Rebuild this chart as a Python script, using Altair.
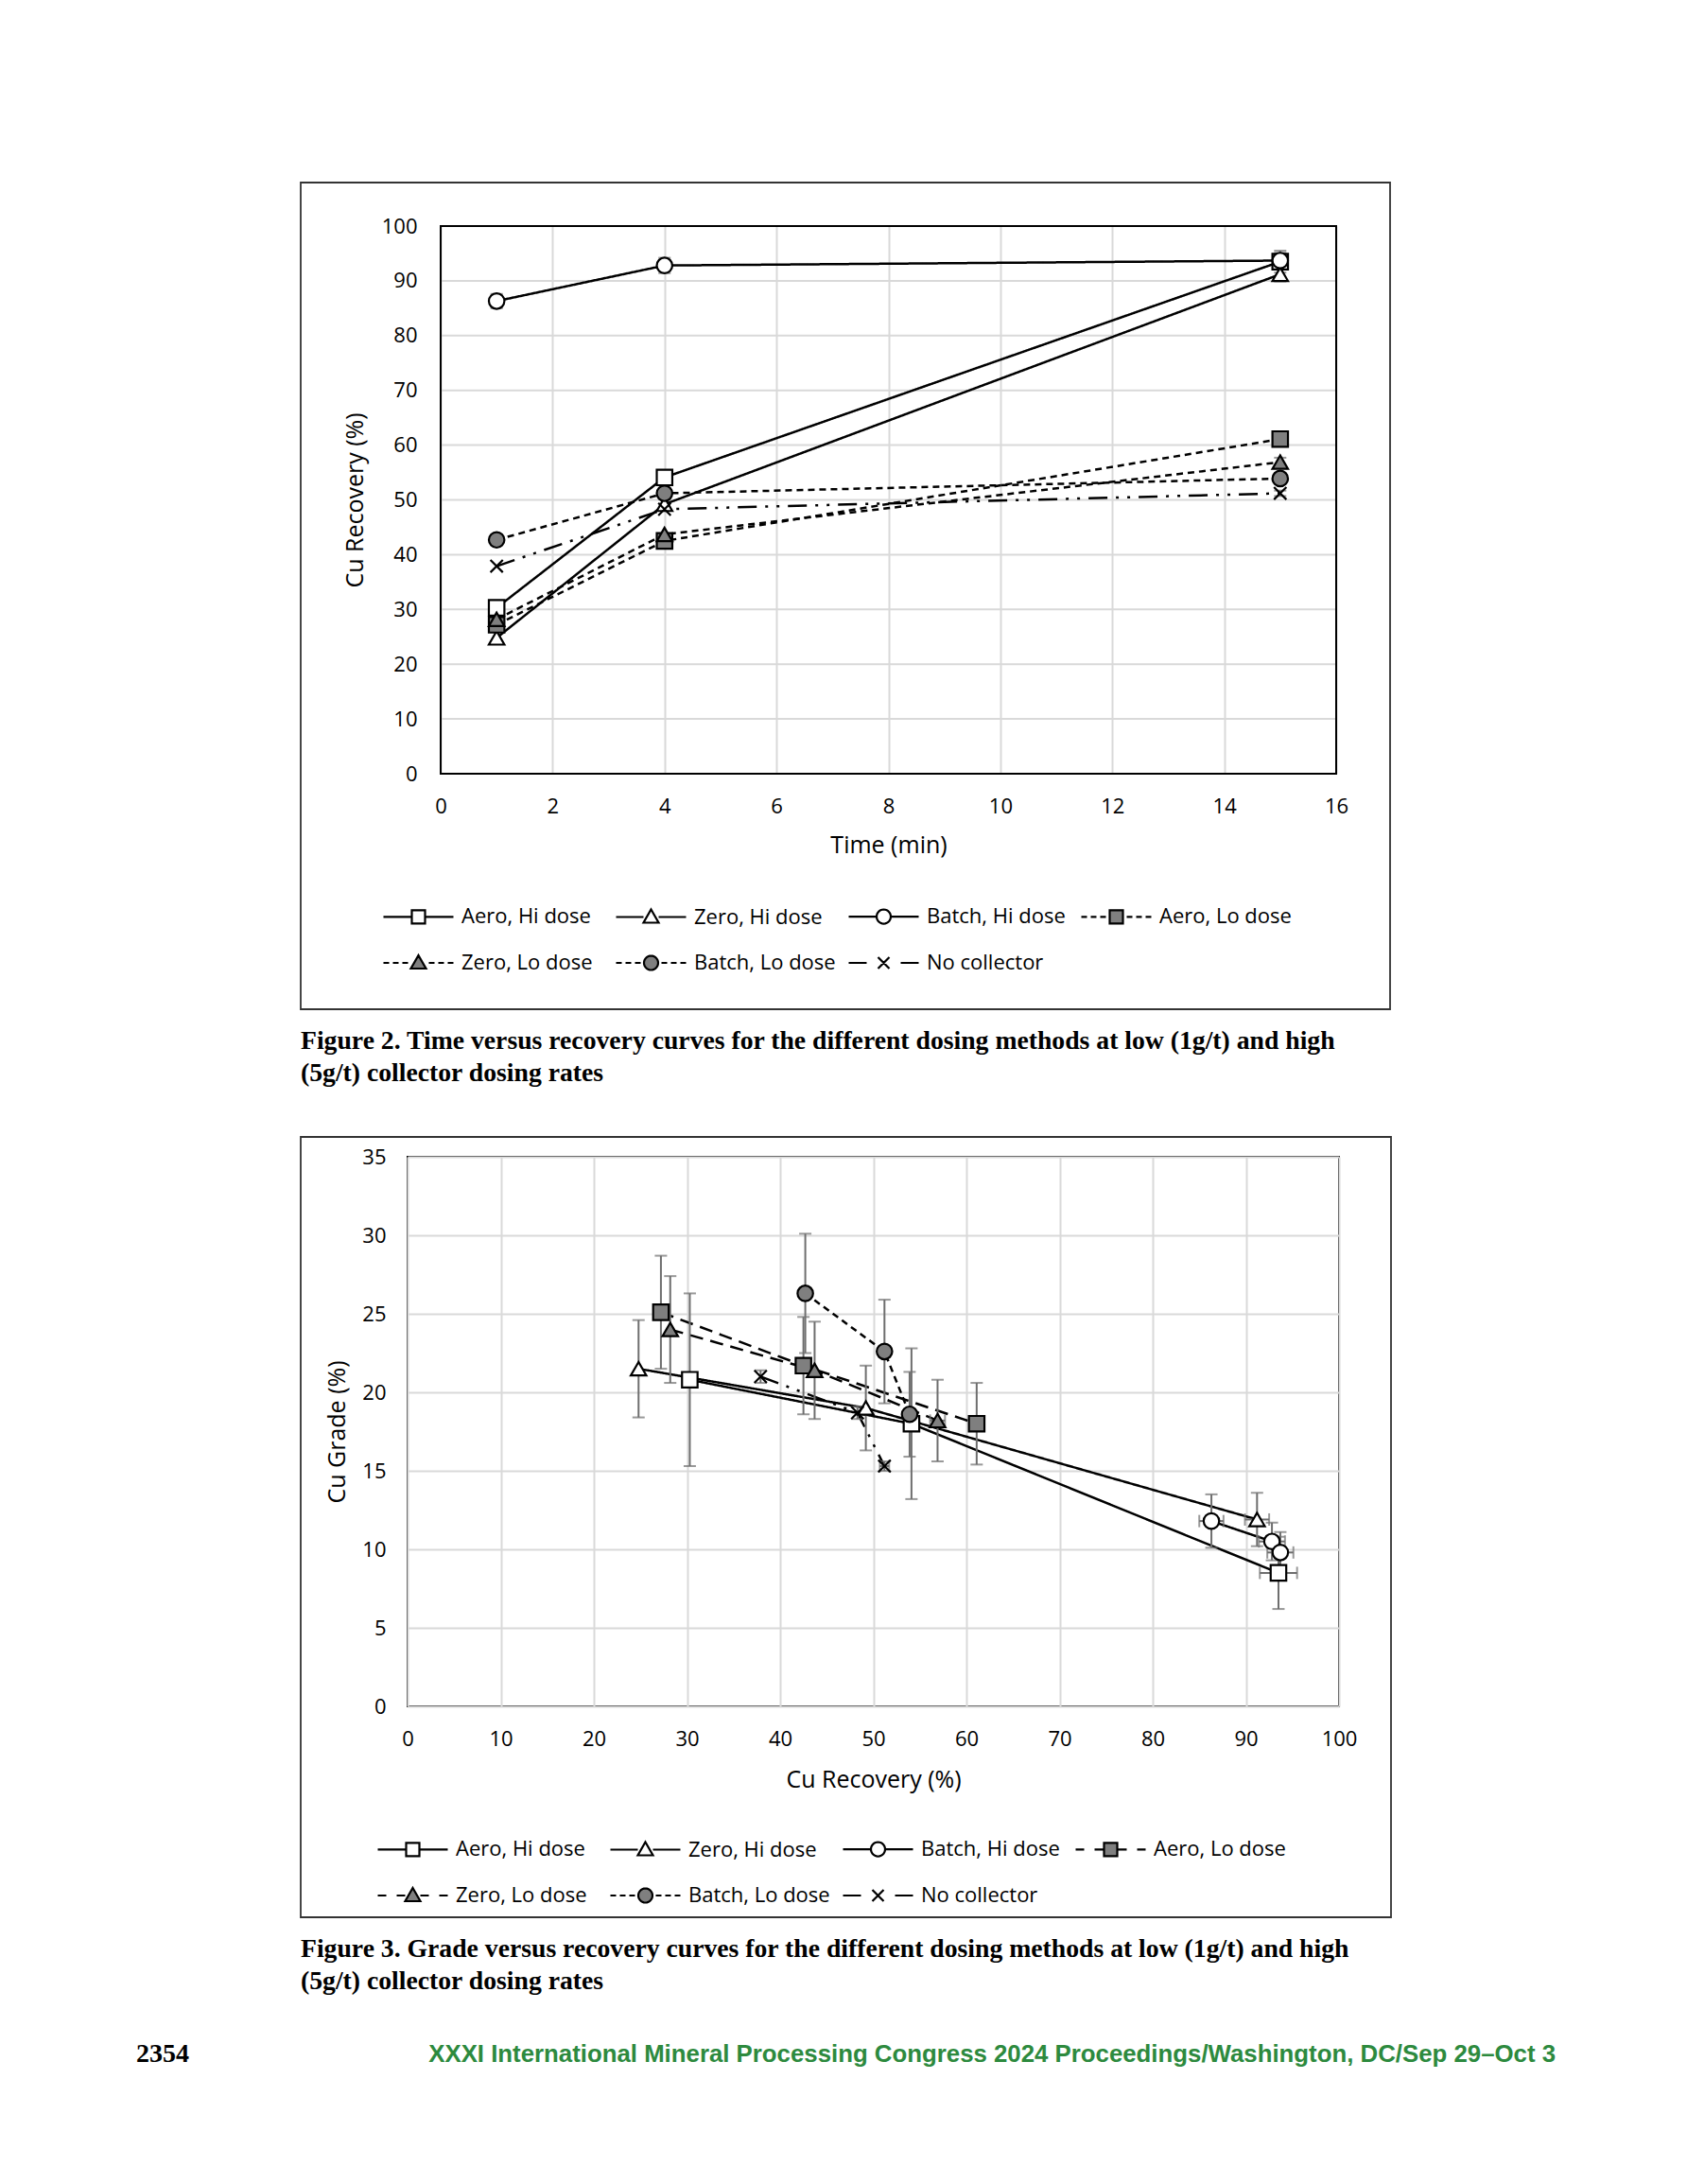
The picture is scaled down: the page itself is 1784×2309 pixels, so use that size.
import math
import altair as alt
import pandas as pd

# ---------------- data ----------------
SERIES = ["Aero, Hi dose", "Zero, Hi dose", "Batch, Hi dose", "Aero, Lo dose",
          "Zero, Lo dose", "Batch, Lo dose", "No collector"]
TIMES = [1, 4, 15]

# Cu recovery (%) at 1, 4, 15 min
REC_AERO_HI = [30.3, 54.1, 93.5]
REC_ZERO_HI = [24.8, 49.2, 91.2]
REC_BATCH_HI = [86.3, 92.8, 93.7]
REC_AERO_LO = [27.2, 42.5, 61.1]
REC_ZERO_LO = [28.2, 43.7, 56.9]
REC_BATCH_LO = [42.7, 51.2, 53.9]
REC_NO_COLL = [37.9, 48.3, 51.2]

REC_ERR_AERO_HI = [0, 0, 2.0]
REC_ERR_ZERO_HI = [0, 0, 1.3]
REC_ERR_BATCH_HI = [1.3, 1.4, 1.4]
REC_ERR_AERO_LO = [0, 0, 0]
REC_ERR_ZERO_LO = [0, 0, 0.8]
REC_ERR_BATCH_LO = [0, 0, 0]
REC_ERR_NO_COLL = [0, 0, 0.5]

# Cu grade (%)
GRADE_AERO_HI = [20.8, 18.0, 8.5]
GRADE_ZERO_HI = [21.5, 19.0, 11.9]
GRADE_BATCH_HI = [11.8, 10.5, 9.8]
GRADE_AERO_LO = [25.1, 21.7, 18.0]
GRADE_ZERO_LO = [24.0, 21.4, 18.2]
GRADE_BATCH_LO = [26.3, 22.6, 18.6]
GRADE_NO_COLL = [21.0, 18.7, 15.3]

GRADE_ERR_AERO_HI = [5.5, 4.8, 2.3]
GRADE_ERR_ZERO_HI = [3.1, 2.7, 1.7]
GRADE_ERR_BATCH_HI = [1.7, 1.2, 1.3]
GRADE_ERR_AERO_LO = [3.6, 3.1, 2.6]
GRADE_ERR_ZERO_LO = [3.4, 3.1, 2.6]
GRADE_ERR_BATCH_LO = [3.8, 3.3, 2.7]
GRADE_ERR_NO_COLL = [0.4, 0.4, 0.3]

FIG2_X_TICKS = list(range(0, 17, 2))
FIG2_Y_TICKS = list(range(0, 101, 10))
FIG3_X_TICKS = list(range(0, 101, 10))
FIG3_Y_TICKS = list(range(0, 36, 5))

CAPTION_2 = ("Figure 2. Time versus recovery curves for the different dosing methods at low (1g/t) and high\n"
             "(5g/t) collector dosing rates")
CAPTION_3 = ("Figure 3. Grade versus recovery curves for the different dosing methods at low (1g/t) and high\n"
             "(5g/t) collector dosing rates")
PAGE_NO = "2354"
FOOTER = "XXXI International Mineral Processing Congress 2024 Proceedings/Washington, DC/Sep 29\u2013Oct 3"

REC = [REC_AERO_HI, REC_ZERO_HI, REC_BATCH_HI, REC_AERO_LO, REC_ZERO_LO, REC_BATCH_LO, REC_NO_COLL]
REC_ERR = [REC_ERR_AERO_HI, REC_ERR_ZERO_HI, REC_ERR_BATCH_HI, REC_ERR_AERO_LO,
           REC_ERR_ZERO_LO, REC_ERR_BATCH_LO, REC_ERR_NO_COLL]
GRADE = [GRADE_AERO_HI, GRADE_ZERO_HI, GRADE_BATCH_HI, GRADE_AERO_LO, GRADE_ZERO_LO,
         GRADE_BATCH_LO, GRADE_NO_COLL]
GRADE_ERR = [GRADE_ERR_AERO_HI, GRADE_ERR_ZERO_HI, GRADE_ERR_BATCH_HI, GRADE_ERR_AERO_LO,
             GRADE_ERR_ZERO_LO, GRADE_ERR_BATCH_LO, GRADE_ERR_NO_COLL]

rows = []
for s, rr, re_, gg, ge in zip(SERIES, REC, REC_ERR, GRADE, GRADE_ERR):
    for t, r, e, g, eg in zip(TIMES, rr, re_, gg, ge):
        rows.append({"series": s, "t": t, "rec": r, "rec_lo": r - e, "rec_hi": r + e,
                     "rerr": e, "grade": g, "g_lo": g - eg, "g_hi": g + eg, "gerr": eg})
df = pd.DataFrame(rows)
empty = pd.DataFrame({"series": pd.Series([], dtype=str)})

# ---------------- styles ----------------
FONT = "Open Sans"
GRAY = "#7f7f7f"
ERR = "#6e6e6e"
GRID = "#d9d9d9"
FILLS = ["white", "white", "white", GRAY, GRAY, GRAY, "transparent"]
X_PATH = "M-0.8,-0.8L0.8,0.8M-0.8,0.8L0.8,-0.8"
SHAPES = ["square", "triangle-up", "circle", "square", "triangle-up", "circle", X_PATH]
SOLID = [1, 0]
SHORT = [7, 5]
LONG = [14, 8]
DASHDOT = [20, 9, 3, 9, 3, 9]
DASH_FIG2 = [SOLID, SOLID, SOLID, SHORT, SHORT, SHORT, DASHDOT]
DASH_FIG3 = [SOLID, SOLID, SOLID, LONG, LONG, SHORT, DASHDOT]

# legend symbols: line + marker as one custom path (unit = 7.5 px for size 225)
U = 7.5
X0, X1 = -7.5, 66.5
MC = (X0 + X1) / 2


def n(v):
    return f"{v / U:.3f}"


def seg_path(segs):
    return "".join(f"M{n(a)},0L{n(b)},0" for a, b in segs)


def line_segs(kind, h):
    stop = MC - h
    if kind == "solid":
        left = [(X0, stop)]
    elif kind == "nocoll":
        left = [(X0, X0 + 19)]
    else:
        d, g = kind
        left = []
        a = X0
        while a < stop - 0.5:
            b = min(a + d, stop)
            left.append((a, b))
            a = b + g
    return left + [(2 * MC - b, 2 * MC - a) for a, b in left]


def marker_path(shape):
    if shape == "square":
        h = 7
        return (f"M{n(MC - h)},{n(-h)}L{n(MC + h)},{n(-h)}L{n(MC + h)},{n(h)}"
                f"L{n(MC - h)},{n(h)}Z")
    if shape == "triangle":
        h = 8
        return f"M{n(MC)},{n(-h)}L{n(MC + h)},{n(0.75 * h)}L{n(MC - h)},{n(0.75 * h)}Z"
    if shape == "circle":
        r = 7.5
        pts = [(MC + r * math.cos(2 * math.pi * k / 28), r * math.sin(2 * math.pi * k / 28))
               for k in range(28)]
        return "M" + "L".join(f"{n(x)},{n(y)}" for x, y in pts) + "Z"
    h = 6
    return f"M{n(MC - h)},{n(-h)}L{n(MC + h)},{n(h)}M{n(MC - h)},{n(h)}L{n(MC + h)},{n(-h)}"


MARKERS = ["square", "triangle", "circle", "square", "triangle", "circle", "x"]
HALF = {"square": 7, "triangle": 8, "circle": 7.5, "x": 8}


def legend_paths(kinds):
    out = []
    for m, k in zip(MARKERS, kinds):
        out.append(seg_path(line_segs(k, HALF[m])) + marker_path(m))
    return out


LEG_FIG2 = legend_paths(["solid", "solid", "solid", (6, 4), (6, 4), (6, 4), "nocoll"])
LEG_FIG3 = legend_paths(["solid", "solid", "solid", (9, 11), (9, 11), (6, 4), "nocoll"])


def make_legend(lx, ly):
    return alt.Legend(orient="none", legendX=lx, legendY=ly, columns=4, direction="horizontal",
                      title=None, labelFont=FONT, labelFontSize=22, labelColor="black",
                      symbolSize=225, symbolStrokeWidth=2.2, symbolStrokeColor="black",
                      labelOffset=64, columnPadding=9, rowPadding=24, gridAlign="all",
                      labelLimit=400, padding=0)


def text_layer(txt, x, y, font, size, color="black", weight="bold", align="left"):
    return alt.Chart(pd.DataFrame({"txt": [txt]})).mark_text(
        align=align, baseline="alphabetic", font=font, fontSize=size, fontWeight=weight,
        color=color, lineBreak="\n", lineHeight=34).encode(
        text="txt:N", x=alt.value(x), y=alt.value(y))


def box_layer(x, x2, y, y2, color="#333333", sw=1.8):
    return alt.Chart(pd.DataFrame({"a": [0]})).mark_rect(
        fill="transparent", stroke=color, strokeWidth=sw).encode(
        x=alt.value(x), x2=alt.value(x2), y=alt.value(y), y2=alt.value(y2))


def figure(xf, yf, xscale, yscale, xaxis, yaxis, dashes, legpaths, leg, vert_err, horiz_err,
           w, h, pre, extra, view=None):
    X = lambda f: alt.X(f"{f}:Q", scale=xscale, axis=xaxis)
    Y = lambda f: alt.Y(f"{f}:Q", scale=yscale, axis=yaxis)
    base = alt.Chart(df)
    layers = []
    if vert_err:
        lo, hi, flt = vert_err
        ve = base.transform_filter(flt)
        layers += [
            ve.mark_rule(color=ERR, strokeWidth=2).encode(x=X(xf), y=Y(lo), y2=f"{hi}:Q"),
            ve.mark_tick(orient="horizontal", size=13, thickness=2, color=ERR).encode(x=X(xf), y=Y(lo)),
            ve.mark_tick(orient="horizontal", size=13, thickness=2, color=ERR).encode(x=X(xf), y=Y(hi)),
        ]
    if horiz_err:
        lo, hi, flt = horiz_err
        he = base.transform_filter(flt)
        layers += [
            he.mark_rule(color=ERR, strokeWidth=2).encode(x=X(lo), x2=f"{hi}:Q", y=Y(yf)),
            he.mark_tick(orient="vertical", size=13, thickness=2, color=ERR).encode(x=X(lo), y=Y(yf)),
            he.mark_tick(orient="vertical", size=13, thickness=2, color=ERR).encode(x=X(hi), y=Y(yf)),
        ]
    lines = base.mark_line(color="black", strokeWidth=2.5).encode(
        x=X(xf), y=Y(yf),
        strokeDash=alt.StrokeDash("series:N", scale=alt.Scale(domain=SERIES, range=dashes), legend=None),
        order=alt.Order("t:Q"))
    points = base.mark_point(filled=True, stroke="black", strokeWidth=2.2, size=270, opacity=1).encode(
        x=X(xf), y=Y(yf),
        color=alt.Color("series:N", scale=alt.Scale(domain=SERIES, range=FILLS), legend=None),
        shape=alt.Shape("series:N", scale=alt.Scale(domain=SERIES, range=SHAPES), legend=None))
    legend_layer = alt.Chart(empty).mark_point(
        filled=True, stroke="black", strokeWidth=2.2, size=225, opacity=1).encode(
        color=alt.Color("series:N", scale=alt.Scale(domain=SERIES, range=FILLS), legend=leg),
        shape=alt.Shape("series:N", scale=alt.Scale(domain=SERIES, range=legpaths), legend=leg))
    pre_layers = [p(Y) for p in pre]
    layers = pre_layers + [lines] + layers + [points, legend_layer] + extra
    ch = alt.layer(*layers).resolve_scale(
        color="independent", shape="independent", strokeDash="independent"
    ).properties(width=w, height=h)
    if view is not None:
        ch = ch.properties(view=view)
    return ch


# ---------------- figure 2 (time vs recovery) ----------------
# Both panels share one left origin (page x of figure 3's plot); figure 2's plot
# starts SHIFT px to the right of it inside its own view.
SHIFT = 35
W2 = 947 + SHIFT


def fig2_grid(Y):
    return alt.Chart(pd.DataFrame({"v": FIG2_Y_TICKS})).mark_rule(color=GRID, strokeWidth=2).encode(
        y=Y("v"), x=alt.value(SHIFT), x2=alt.value(W2))


def fig2_border(Y):
    return box_layer(SHIFT, W2, 0, 579, color="black", sw=2)


fig2 = figure(
    "t", "rec",
    alt.Scale(domain=[0, 16], nice=False, zero=False, range=[SHIFT, W2]),
    alt.Scale(domain=[0, 100], nice=False),
    alt.Axis(values=FIG2_X_TICKS, title="Time (min)", labelPadding=24, titlePadding=18),
    alt.Axis(values=FIG2_Y_TICKS, title="Cu Recovery (%)", labelPadding=25, titlePadding=15,
             grid=False, offset=-SHIFT),
    DASH_FIG2, LEG_FIG2, make_legend(-64 + SHIFT, 719),
    ("rec_lo", "rec_hi", "datum.rerr > 0"), None,
    W2, 579,
    [fig2_grid, fig2_border],
    [box_layer(-148 + SHIFT, 1004 + SHIFT, -46, 828),
     text_layer(CAPTION_2, -148 + SHIFT, 870, "Liberation Serif", 27.7)],
    view=alt.ViewBackground(stroke="transparent"),
)

# ---------------- figure 3 (grade vs recovery) ----------------
fig3 = figure(
    "rec", "grade",
    alt.Scale(domain=[0, 100], nice=False),
    alt.Scale(domain=[0, 35], nice=False),
    alt.Axis(values=FIG3_X_TICKS, title="Cu Recovery (%)", labelPadding=24, titlePadding=20),
    alt.Axis(values=FIG3_Y_TICKS, title="Cu Grade (%)", labelPadding=23, titlePadding=13),
    DASH_FIG3, LEG_FIG3, make_legend(-35, 721),
    ("g_lo", "g_hi", "datum.gerr > 0"), ("rec_lo", "rec_hi", "datum.rerr > 0"),
    985, 581,
    [],
    [box_layer(-113, 1040, -21, 804),
     text_layer(CAPTION_3, -113, 846, "Liberation Serif", 27.7),
     text_layer(PAGE_NO, -287, 957, "Liberation Serif", 28),
     text_layer(FOOTER, 1214, 957, "Liberation Sans", 25.8, color="#2d8a3e", align="right")],
)

chart = alt.vconcat(fig2, fig3, spacing=50).properties(
    padding={"left": 135, "top": 183, "right": 10, "bottom": 10}
).configure(background="white").configure_view(
    stroke="black", strokeWidth=2
).configure_axis(
    labelFont=FONT, labelFontSize=22, labelColor="black", labelFlush=False,
    labelOverlap=False,
    titleFont=FONT, titleFontSize=25, titleFontWeight="normal", titleColor="black",
    gridColor=GRID, gridWidth=2, domain=False, ticks=False, tickSize=0,
)

chart.save("out.html", embed_options={"renderer": "svg", "actions": False})
